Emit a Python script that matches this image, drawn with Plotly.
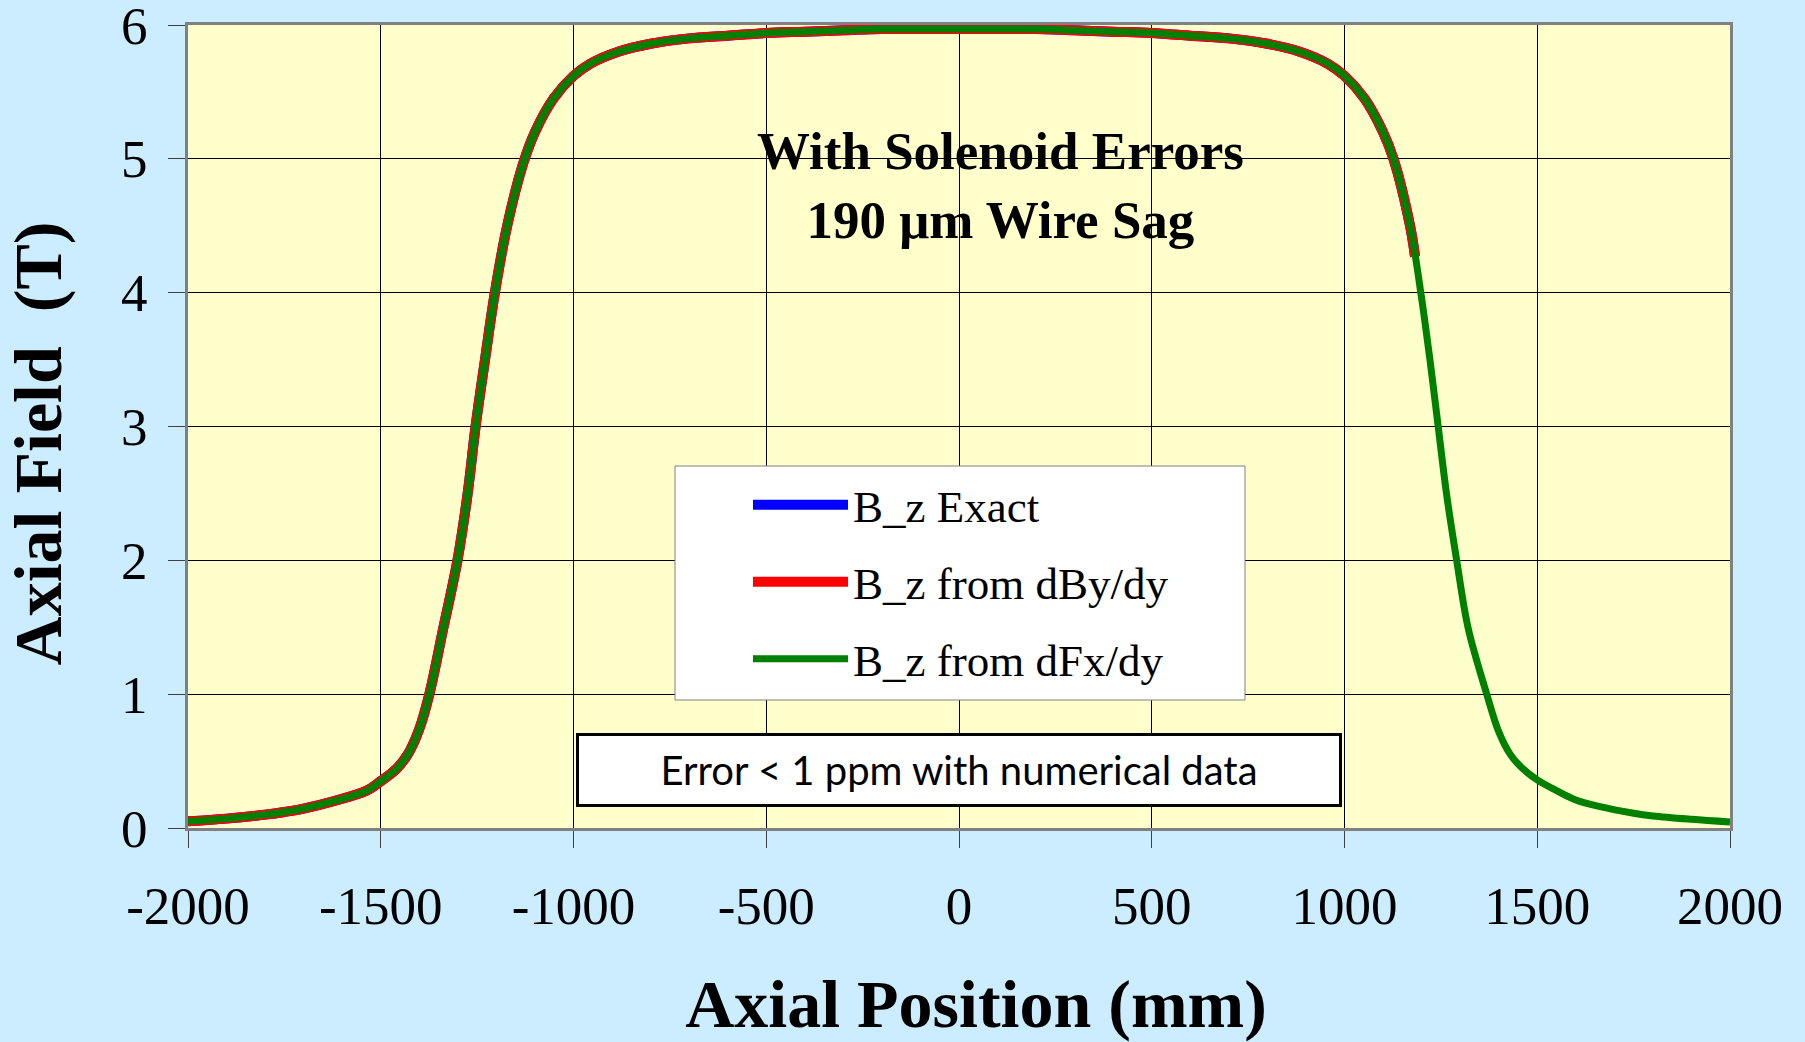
import plotly.graph_objects as go

# ---------------- data ----------------
# axial position (mm) for the full-range curve (B_z from dFx/dy)
z_full = [-2000, -1900, -1800, -1750, -1700, -1623, -1536, -1500, -1460, -1430,
          -1400, -1374, -1338, -1301, -1275, -1254, -1230, -1204, -1172, -1130,
          -1100, -1052, -1000, -957, -884, -800, -700, -600, -500, -400, -300, -200,
          -100, 0, 100, 200, 300, 400, 500, 600, 700, 800, 884, 957, 1000, 1052,
          1100, 1127, 1170, 1198, 1222, 1243, 1265, 1291, 1321, 1369, 1400, 1430,
          1460, 1500, 1550, 1600, 1663, 1750, 1800, 1900, 2000]
bz_dfx = [0.05, 0.07, 0.10, 0.12, 0.145, 0.20, 0.28, 0.35, 0.44, 0.55,
          0.74, 1.00, 1.49, 2.00, 2.49, 3.00, 3.49, 4.00, 4.50, 4.97,
          5.20, 5.45, 5.62, 5.71, 5.80, 5.86, 5.90, 5.92, 5.94, 5.95, 5.96, 5.97,
          5.97, 5.97, 5.97, 5.97, 5.96, 5.95, 5.94, 5.92, 5.90, 5.86, 5.80, 5.71, 5.62, 5.45,
          5.20, 5.00, 4.50, 4.00, 3.49, 3.00, 2.49, 2.00, 1.49, 1.00, 0.72, 0.55,
          0.45, 0.36, 0.28, 0.21, 0.16, 0.11, 0.09, 0.065, 0.045]

# the exact field and the dBy/dy curve stop at about z = 1183 mm
z_short = [-2000, -1900, -1800, -1750, -1700, -1623, -1536, -1500, -1460, -1430,
           -1400, -1374, -1338, -1301, -1275, -1254, -1230, -1204, -1172, -1130,
           -1100, -1052, -1000, -957, -884, -800, -700, -600, -500, -400, -300, -200,
           -100, 0, 100, 200, 300, 400, 500, 600, 700, 800, 884, 957, 1000, 1052,
           1100, 1127, 1170, 1183]
bz_exact = [0.05, 0.07, 0.10, 0.12, 0.145, 0.20, 0.28, 0.35, 0.44, 0.55,
            0.74, 1.00, 1.49, 2.00, 2.49, 3.00, 3.49, 4.00, 4.50, 4.97,
            5.20, 5.45, 5.62, 5.71, 5.80, 5.86, 5.90, 5.92, 5.94, 5.95, 5.96, 5.97,
            5.97, 5.97, 5.97, 5.97, 5.96, 5.95, 5.94, 5.92, 5.90, 5.86, 5.80, 5.71, 5.62, 5.45,
            5.20, 5.00, 4.50, 4.27]
bz_dby = [0.05, 0.07, 0.10, 0.12, 0.145, 0.20, 0.28, 0.35, 0.44, 0.55,
          0.74, 1.00, 1.49, 2.00, 2.49, 3.00, 3.49, 4.00, 4.50, 4.97,
          5.20, 5.45, 5.62, 5.71, 5.80, 5.86, 5.90, 5.92, 5.94, 5.95, 5.96, 5.97,
          5.97, 5.97, 5.97, 5.97, 5.96, 5.95, 5.94, 5.92, 5.90, 5.86, 5.80, 5.71, 5.62, 5.45,
          5.20, 5.00, 4.50, 4.27]

x_tickvals = [-2000, -1500, -1000, -500, 0, 500, 1000, 1500, 2000]
x_ticktext = ["-2000", "-1500", "-1000", "-500", "0", "500", "1000", "1500", "2000"]
y_tickvals = [0, 1, 2, 3, 4, 5, 6]
y_ticktext = ["0", "1", "2", "3", "4", "5", "6"]

series_names = ["B_z Exact", "B_z from dBy/dy", "B_z from dFx/dy"]

# ---------------- styling ----------------
SERIF = "Liberation Serif, Times New Roman, serif"
PAPER = "#CCECFF"
PLOT = "#FFFFCC"
SPL = dict(shape="spline", smoothing=1.0)

fig = go.Figure()
fig.add_trace(go.Scatter(x=z_short, y=bz_exact, mode="lines", name=series_names[0],
                         legendgroup="a", line=dict(color="#0000FF", width=10, **SPL)))
fig.add_trace(go.Scatter(x=z_short, y=bz_dby, mode="lines", name=series_names[1],
                         legendgroup="b", line=dict(color="#FF0000", width=10, **SPL)))
fig.add_trace(go.Scatter(x=z_full, y=bz_dfx, mode="lines", name=series_names[2],
                         legendgroup="c", line=dict(color="#008000", width=7, **SPL)))

L, R, T, B = 188, 75, 25, 214
W, H = 1805, 1042
pw, ph = W - L - R, H - T - B


def px_x(X):
    return (X - L) / pw


def px_y(Y):
    return (H - B - Y) / ph


fig.update_layout(
    width=W, height=H,
    margin=dict(l=L, r=R, t=T, b=B, autoexpand=False),
    paper_bgcolor=PAPER,
    plot_bgcolor=PLOT,
    font=dict(family=SERIF, color="black"),
    showlegend=True,
    legend=dict(
        x=px_x(748), y=px_y(582), xanchor="left", yanchor="middle",
        bgcolor="rgba(0,0,0,0)", borderwidth=0,
        font=dict(family=SERIF, size=45, color="black"),
        itemwidth=95, traceorder="grouped", tracegroupgap=15.5,
    ),
    xaxis=dict(
        range=[-2000, 2000], tickvals=x_tickvals, ticktext=x_ticktext,
        tickfont=dict(family=SERIF, size=53), ticks="outside", ticklen=17,
        tickcolor="#404040", tickwidth=1, ticklabelstandoff=12,
        ticklabeloverflow="allow",
        showgrid=True, gridcolor="black", gridwidth=1, zeroline=False,
        showline=True, linecolor="#808080", linewidth=3, mirror=True,
        title=dict(text="&nbsp;&nbsp;Axial Position (mm)", standoff=56,
                   font=dict(family=SERIF, size=68, weight="bold")),
    ),
    yaxis=dict(
        range=[0, 6], tickvals=y_tickvals, ticktext=y_ticktext,
        tickfont=dict(family=SERIF, size=53), ticks="outside", ticklen=17,
        tickcolor="#404040", tickwidth=1, ticklabelstandoff=10,
        ticklabeloverflow="allow",
        showgrid=True, gridcolor="black", gridwidth=1, zeroline=False,
        showline=True, linecolor="#808080", linewidth=3, mirror=True,
        title=dict(text="Axial Field&nbsp; (T)&nbsp;&nbsp;", standoff=40,
                   font=dict(family=SERIF, size=68, weight="bold")),
    ),
    shapes=[
        dict(type="rect", xref="paper", yref="paper", layer="above",
             x0=px_x(675), x1=px_x(1245), y0=px_y(700), y1=px_y(466),
             fillcolor="white", line=dict(color="#808080", width=1)),
    ],
    annotations=[
        dict(text="With Solenoid Errors<br>190 μm Wire Sag", xref="paper", yref="paper",
             x=px_x(1000), y=px_y(185), xanchor="center", yanchor="middle", showarrow=False,
             font=dict(family=SERIF, size=53, weight="bold", color="black")),
        dict(text="Error &lt; 1 ppm with numerical data", xref="paper", yref="paper",
             x=px_x(959), y=px_y(770), xanchor="center", yanchor="middle", showarrow=False,
             width=760, height=68, borderpad=0, bgcolor="white",
             bordercolor="black", borderwidth=3,
             font=dict(family="Comic Sans MS, Lato, sans-serif", size=40, color="black")),
    ],
)

fig.write_html("out.html")
